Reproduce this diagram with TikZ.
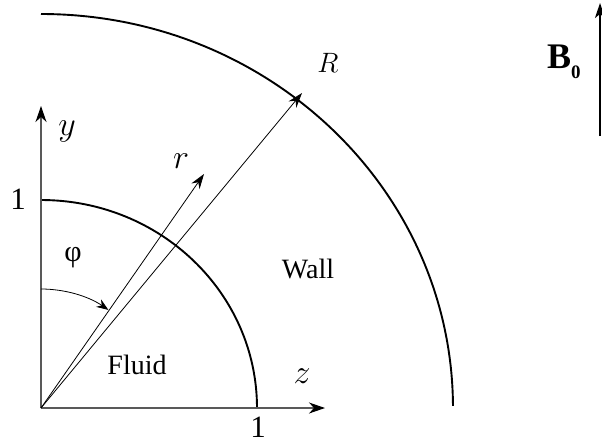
\RequirePackage{fix-cm}
\documentclass[tikz,border=0pt]{standalone}
\usepackage{fontspec}
\setmainfont{Liberation Serif}
\usetikzlibrary{arrows.meta}
\begin{document}
\begin{tikzpicture}[x=1pt,y=-1pt,
  axis/.style={draw=black!65,line width=1.1pt},
  ray/.style={draw=black,line width=0.8pt},
  bound/.style={draw=black,line width=1.9pt},
  bigtip/.style={-{Stealth[length=16pt,width=11pt,inset=5pt,color=black]}},
  raytip/.style={-{Stealth[length=15pt,width=10pt,inset=5pt]}},
  smalltip/.style={-{Stealth[length=12pt,width=9pt,inset=4pt]}},
  txt/.style={inner sep=0pt,font=\fontsize{28}{32}\selectfont},
  num/.style={inner sep=0pt,font=\fontsize{31}{38}\selectfont},
  mth/.style={inner sep=0pt,font=\fontsize{34}{40}\selectfont}]
\useasboundingbox (0,0) rectangle (602,445);
% coordinates
\coordinate (O) at (41,408);
\coordinate (ytip) at (41,106);
\coordinate (ztip) at (325,408);
\coordinate (rtip) at (204,174);
\coordinate (Rtip) at (302,93);
\coordinate (Btail) at (600,136);
\coordinate (Bhead) at (600,3);
% boundaries
\draw[bound] (257,408) arc[start angle=0,end angle=90,x radius=216pt,y radius=208pt];
\draw[bound] (41,14) arc[start angle=90,end angle=0.3,x radius=412pt,y radius=394pt];
% axes
\draw[axis,bigtip] (O) -- (ytip);
\draw[axis,bigtip] (O) -- (ztip);
% rays
\draw[ray,raytip] (O) -- (rtip);
\draw[ray,raytip] (O) -- (Rtip);
% angle
\draw[line width=0.8pt,smalltip] (41,289) arc[start angle=90,end angle=55.5,radius=119pt];
% field
\draw[line width=1.5pt,-{Stealth[length=15pt,width=10pt,inset=4pt]}] (Btail) -- (Bhead);
% labels
\node[mth] (ly) at (67,131) {$y$};
\node[mth] (lr) at (181,161) {$r$};
\node[mth,font=\fontsize{28}{32}\selectfont] (lR) at (328,63) {$R$};
\node[mth] (lz) at (302,376) {$z$};
\node[num] (one1) at (18,199) {1};
\node[num] (one2) at (258,427) {1};
\node[inner sep=0pt,font=\fontsize{30}{36}\selectfont] (phi) at (73,258) {φ};
\node[txt] (wall) at (308,269) {Wall};
\node[txt] (fluid) at (137,365) {Fluid};
\node[inner sep=0pt,anchor=base west] (B) at (547,68) {\fontsize{36}{40}\selectfont\textbf{B}\raisebox{-10pt}{\fontsize{19}{22}\selectfont\textbf{0}}};
\end{tikzpicture}
\end{document}
